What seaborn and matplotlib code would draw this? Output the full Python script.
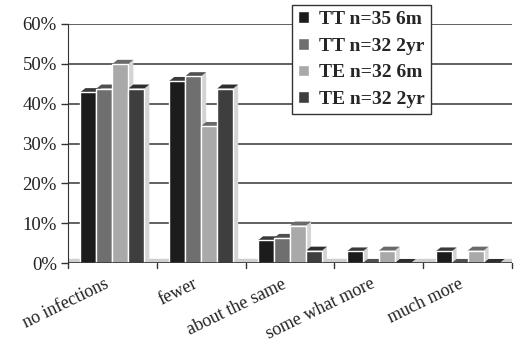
import numpy as np
import pandas as pd
import matplotlib
matplotlib.use("Agg")
import matplotlib.pyplot as plt
from matplotlib.patches import Polygon
import seaborn as sns

categories = ["no infections", "fewer", "about the same", "some what more", "much more"]
series = ["TT n=35 6m", "TT n=32 2yr", "TE n=32 6m", "TE n=32 2yr"]
tt_6m = [42.9, 45.7, 5.7, 2.9, 2.9]
tt_2yr = [43.8, 46.9, 6.3, 0.0, 0.0]
te_6m = [50.0, 34.4, 9.4, 3.1, 3.1]
te_2yr = [43.8, 43.8, 3.1, 0.0, 0.0]
yticks = [0, 10, 20, 30, 40, 50, 60]

colors = ["#1c1c1c", "#6f6f6f", "#a9a9a9", "#3e3e3e"]

df = pd.DataFrame({
    "category": categories * 4,
    "series": np.repeat(series, len(categories)),
    "value": tt_6m + tt_2yr + te_6m + te_2yr,
})

sns.set_style("white")
plt.rcParams["font.family"] = ["Liberation Serif", "DejaVu Serif"]

W, H = 514, 345
fig = plt.figure(figsize=(W / 100, H / 100), dpi=100)
ax = fig.add_axes([68 / W, (H - 263) / H, (512 - 68) / W, (263 - 24) / H])

sns.barplot(data=df, x="category", y="value", hue="series", palette=colors,
            width=0.72, saturation=1, ax=ax, legend=True, zorder=3)

ax.set_xlim(-0.5, len(categories) - 0.5)
ax.set_ylim(0, 60)
ax.set_yticks(yticks)
ax.set_yticklabels([f"{t}%" for t in yticks], fontsize=13.5, color="#222222")
ax.set_xlabel("")
ax.set_ylabel("")

# horizontal gridlines on the back wall
for t in yticks[1:]:
    ax.axhline(t, color="#555555", lw=1.3, zorder=1)

# pseudo-3D depth for each bar: dark top face, pale right side,
# drawn just beneath the fronts so the next bar hides what it should
ax_w_px = (512 - 68)
ax_h_px = (263 - 24)
dx = 5 * (len(categories)) / ax_w_px
dy = 4 * 60 / ax_h_px
side_col = "#d4d4d4"
top_col = {c: tc for c, tc in zip(colors, ["#3a3a3a", "#505050", "#6a6a6a", "#2e2e2e"])}
for cont, col in zip(ax.containers, colors):
    for bar in cont:
        x0 = bar.get_x()
        w = bar.get_width()
        h = bar.get_height()
        x1 = x0 + w
        side = Polygon([(x1, 0), (x1 + dx, dy), (x1 + dx, h + dy), (x1, h)],
                       closed=True, facecolor=side_col, edgecolor="none",
                       zorder=2.9, clip_on=False)
        top = Polygon([(x0, h), (x1, h), (x1 + dx, h + dy), (x0 + dx, h + dy)],
                      closed=True, facecolor=top_col[col], edgecolor="none",
                      zorder=2.9, clip_on=False)
        ax.add_patch(side)
        ax.add_patch(top)

# floor strip
ax.axhspan(0, dy, color="#cfcfcf", zorder=2)
ax.axhline(0, color="#333333", lw=1.2, zorder=4)

for s in ["top", "right"]:
    ax.spines[s].set_visible(False)
ax.spines["left"].set_color("#333333")
ax.spines["bottom"].set_visible(False)

ax.tick_params(axis="y", length=5, width=1, color="#333333", left=True, pad=3)
ax.set_xticks(np.arange(len(categories)) - 0.1)
ax.set_xticklabels(categories, rotation=26, ha="right", rotation_mode="anchor",
                   fontsize=13, color="#222222")
ax.tick_params(axis="x", length=0, pad=9)
for k in range(0, len(categories) + 1):
    ax.plot([k - 0.5, k - 0.5], [0, -1.2], color="#333333", lw=1, clip_on=False, zorder=4)

leg = ax.legend(loc="upper left", bbox_to_anchor=(292 / W, (345 - 5) / H),
                bbox_transform=fig.transFigure, frameon=True, fancybox=False,
                borderaxespad=0,
                prop={"family": "Liberation Serif", "weight": "bold", "size": 14},
                handlelength=0.55, handleheight=0.55, handletextpad=0.55,
                labelspacing=0.5, borderpad=0.3)
leg.get_frame().set_edgecolor("#333333")
leg.get_frame().set_linewidth(1.0)
leg.get_frame().set_facecolor("white")
leg.get_frame().set_alpha(1)
leg.set_zorder(10)

fig.savefig("out.png", dpi=100)
